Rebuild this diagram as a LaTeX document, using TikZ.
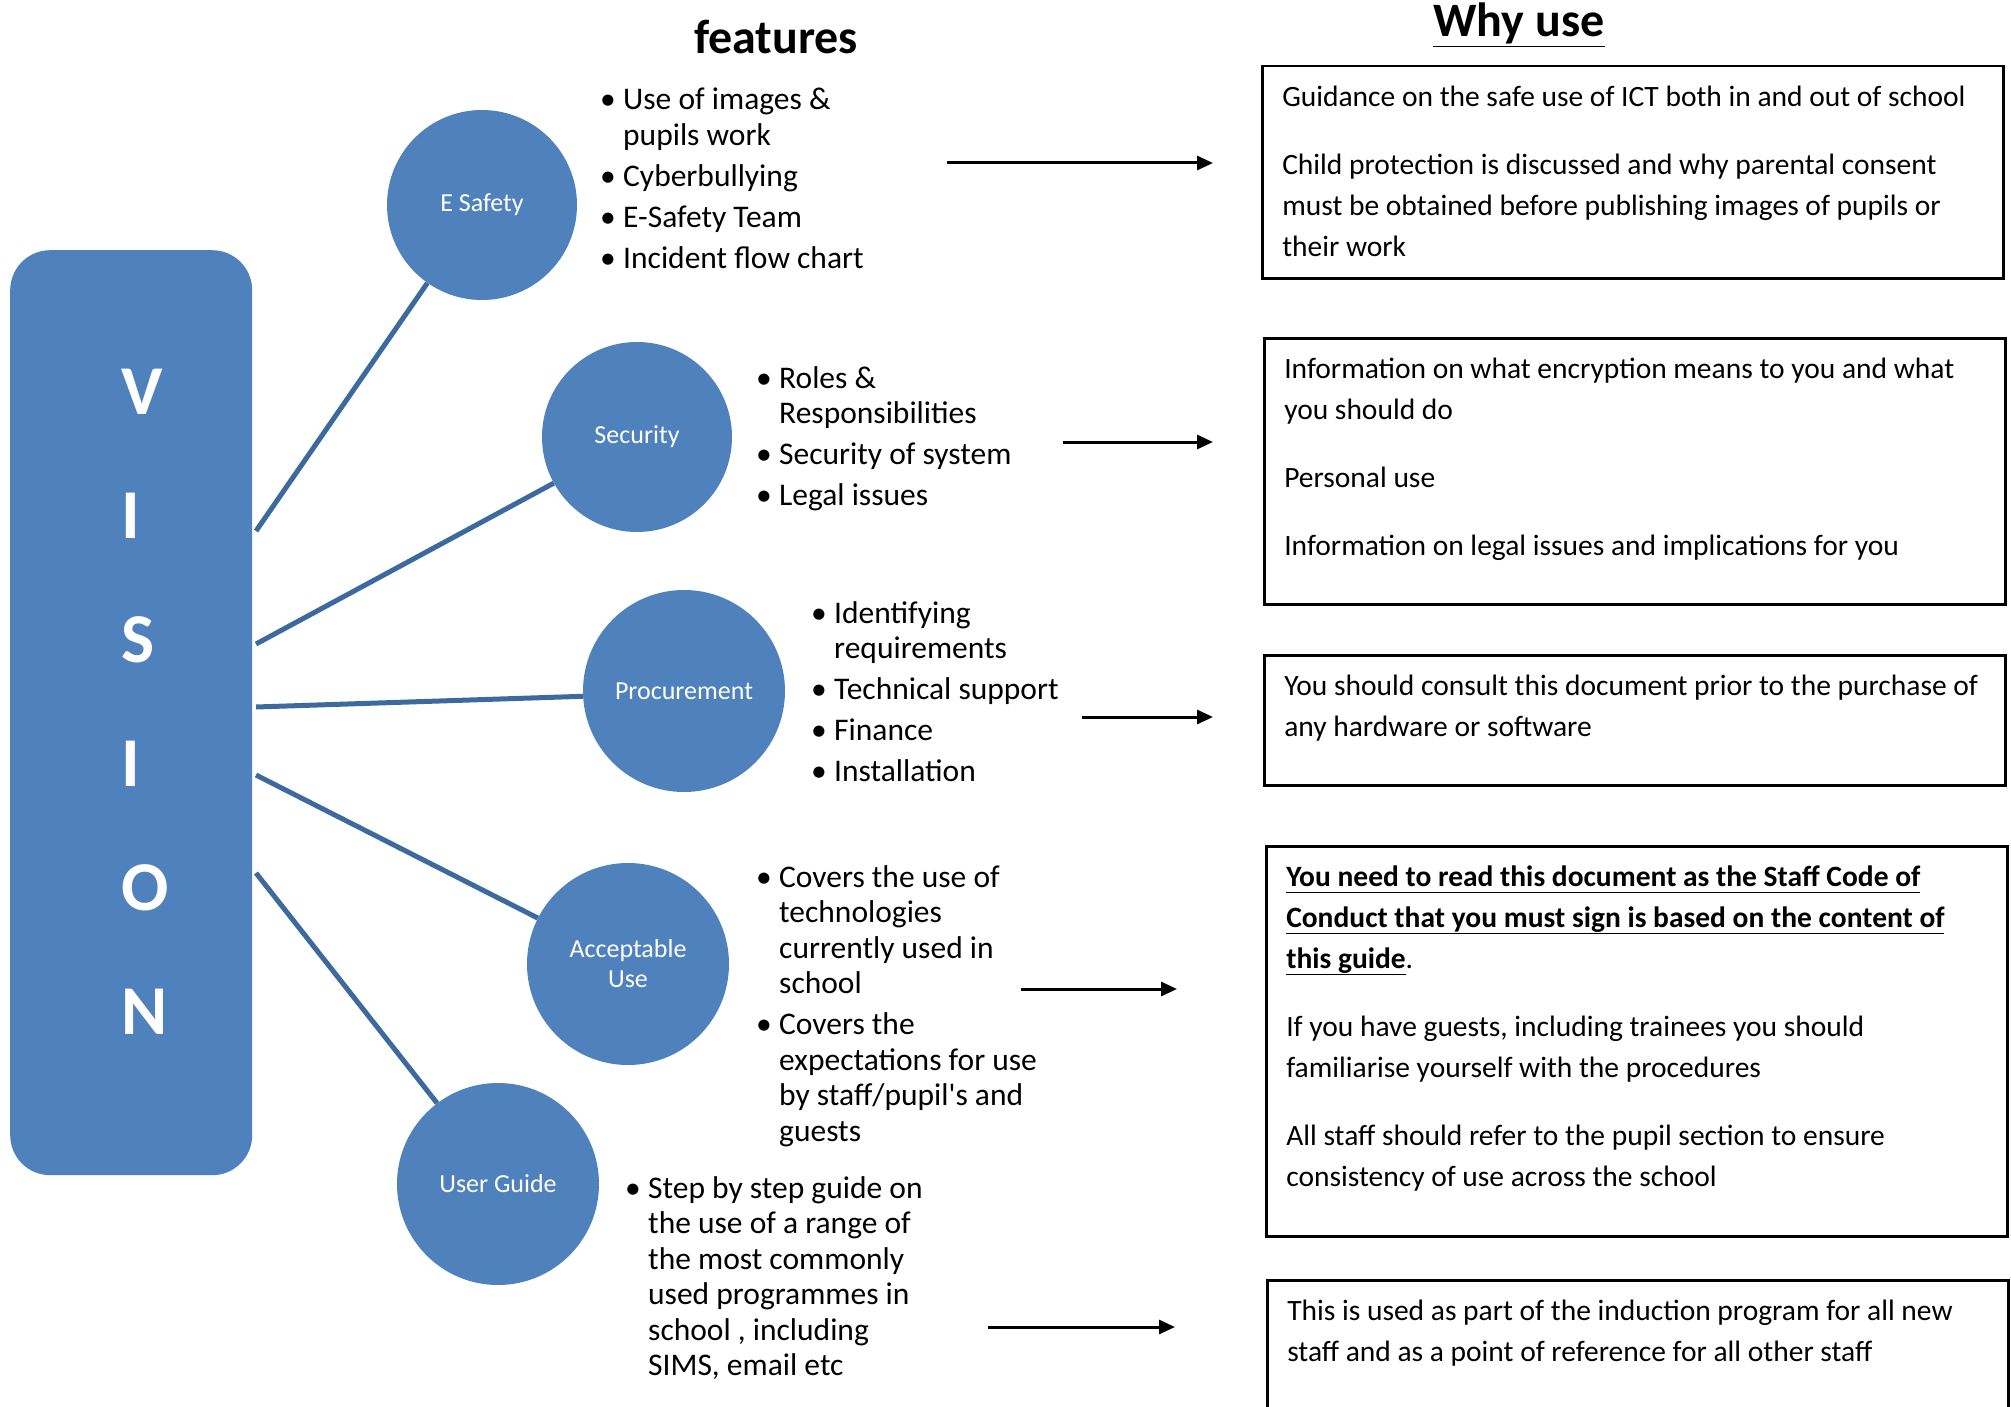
\documentclass[tikz,border=0pt]{standalone}
\usepackage{fontspec}
\setmainfont{Carlito}
\usetikzlibrary{positioning, arrows.meta}
\definecolor{visblue}{HTML}{4F81BD}
\definecolor{spokeblue}{HTML}{3D6A9E}
\tikzstyle{vision} = [rectangle, rounded corners=40pt, fill=visblue, minimum width=242pt, minimum height=925pt, inner sep=0pt]
\tikzstyle{topic} = [circle, fill=visblue, text=white, inner sep=0pt, align=center, font=\fontsize{26}{30}\selectfont]
\tikzstyle{feat} = [anchor=base west, inner sep=0pt, text width=420pt, align=flush left, font=\fontsize{31.5}{35.5}\selectfont]
\tikzstyle{whybox} = [rectangle, draw=black, line width=2.5pt, anchor=north west, inner xsep=20pt, inner ysep=0pt, text width=701pt, text height=40pt, align=flush left, font=\fontsize{29.5}{41}\selectfont]
\tikzstyle{spoke} = [draw=spokeblue, line width=5pt]
\tikzstyle{arrow} = [line width=3pt, -{Triangle[length=16pt,width=14pt]}]
\newcommand{\bitem}{\makebox[23pt][l]{\textbullet}}
\newcommand{\bgap}{\hspace*{23pt}}
\newcommand{\ulbold}[1]{\underline{#1\vphantom{y}}}

\begin{document}
\begin{tikzpicture}[x=1pt, y=-1pt]
			\clip (0,0) rectangle (2011,1407);
			%headings
			\node (feathead) [anchor=base, font=\fontsize{48}{56}\selectfont\bfseries] at (776,54) {features};
			\node (whyhead) [anchor=base, font=\fontsize{48}{56}\selectfont\bfseries] at (1519,37) {\underline{Why use}};
			%vision bar
			\node (vision) [vision, anchor=north west] at (10,250) {};
			\node (letters) [anchor=base west, inner sep=0pt, text width=60pt, align=flush left, text=white, font=\fontsize{70}{124}\selectfont\bfseries] at (121,414) {V\\I\\S\\I\\O\\N};
			%topics
			\node (esafety) [topic, minimum size=190pt] at (482,205) {E Safety};
			\node (security) [topic, minimum size=190pt] at (637,437) {Security};
			\node (procure) [topic, minimum size=202pt] at (684,691) {Procurement};
			\node (accept) [topic, minimum size=202pt] at (628,964) {Acceptable\\Use};
			\node (guide) [topic, minimum size=202pt] at (498,1184) {User Guide};
			%spokes
			\coordinate (v1) at (256,531);
			\coordinate (v2) at (256,644);
			\coordinate (v3) at (256,707);
			\coordinate (v4) at (256,775);
			\coordinate (v5) at (256,873);
			\draw [spoke](v1) -- (esafety.235);
			\draw [spoke](v2) -- (security.209);
			\draw [spoke](v3) -- (procure.183);
			\draw [spoke](v4) -- (accept.153);
			\draw [spoke](v5) -- (guide.127);
			%feature lists
			\node (featsafe) [feat] at (600,110) {\bitem Use of images \&\\ \bgap pupils work\\[5.5pt] \bitem Cyberbullying\\[5.5pt] \bitem E-Safety Team\\[5.5pt] \bitem Incident flow chart};
			\node (featsec) [feat] at (756,388) {\bitem Roles \&\\ \bgap Responsibilities\\[5.5pt] \bitem Security of system\\[5.5pt] \bitem Legal issues};
			\node (featproc) [feat] at (811,623) {\bitem Identifying\\ \bgap requirements\\[5.5pt] \bitem Technical support\\[5.5pt] \bitem Finance\\[5.5pt] \bitem Installation};
			\node (featacc) [feat] at (756,887) {\bitem Covers the use of\\ \bgap technologies\\ \bgap currently used in\\ \bgap school\\[5.5pt] \bitem Covers the\\ \bgap expectations for use\\ \bgap by staff/pupil\textquotesingle s and\\ \bgap guests};
			\node (featguide) [feat] at (625,1198) {\bitem Step by step guide on\\ \bgap the use of a range of\\ \bgap the most commonly\\ \bgap used programmes in\\ \bgap school , including\\ \bgap SIMS, email etc};
			%why boxes
			\node (whysafe) [whybox, text depth=172pt] at (1261,65) {Guidance on the safe use of ICT both in and out of school\\[27pt] Child protection is discussed and why parental consent\\ must be obtained before publishing images of pupils or\\ their work};
			\node (whysec) [whybox, text depth=226pt] at (1263,337) {Information on what encryption means to you and what\\ you should do\\[27pt] Personal use\\[27pt] Information on legal issues and implications for you};
			\node (whyproc) [whybox, text depth=90pt] at (1263,654) {You should consult this document prior to the purchase of\\ any hardware or software};
			\node (whyacc) [whybox, text depth=350pt] at (1265,845) {\textbf{\ulbold{You need to read this document as the Staff Code of}}\\ \textbf{\ulbold{Conduct that you must sign is based on the content of}}\\ \textbf{\ulbold{this guide}}.\\[27pt] If you have guests, including trainees you should\\ familiarise yourself with the procedures\\[27pt] All staff should refer to the pupil section to ensure\\ consistency of use across the school};
			\node (whyguide) [whybox, text depth=200pt] at (1266,1279) {This is used as part of the induction program for all new\\ staff and as a point of reference for all other staff};
			%arrows
			\coordinate (a1s) at (947,163);
			\coordinate (a1e) at (1213,163);
			\coordinate (a2s) at (1063,442);
			\coordinate (a2e) at (1213,442);
			\coordinate (a3s) at (1082,717);
			\coordinate (a3e) at (1213,717);
			\coordinate (a4s) at (1021,989);
			\coordinate (a4e) at (1177,989);
			\coordinate (a5s) at (988,1327);
			\coordinate (a5e) at (1175,1327);
			\draw [arrow](a1s) -- (a1e);
			\draw [arrow](a2s) -- (a2e);
			\draw [arrow](a3s) -- (a3e);
			\draw [arrow](a4s) -- (a4e);
			\draw [arrow](a5s) -- (a5e);
		\end{tikzpicture}
\end{document}
